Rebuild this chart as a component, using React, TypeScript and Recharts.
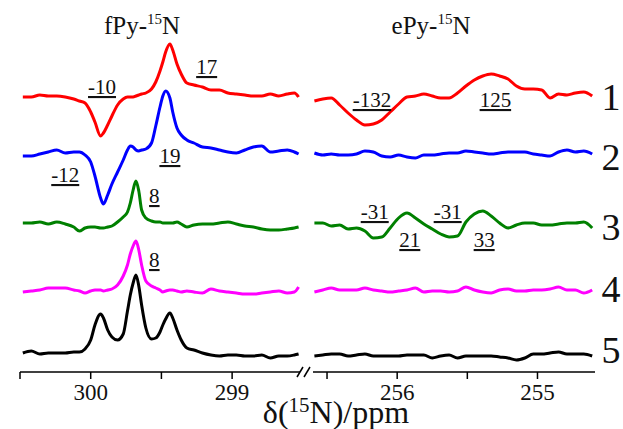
import { LineChart, Line, XAxis, YAxis, ReferenceDot } from "recharts";

const FONT = '"Liberation Serif", "Times New Roman", serif';

// chemical shift grid (ppm) for each half of the broken axis
const leftPpm = [
  300.48, 300.42, 300.36, 300.3, 300.24, 300.18, 300.12, 300.08, 300.04, 300.0,
  299.97, 299.93, 299.91, 299.88, 299.85, 299.81, 299.77, 299.74, 299.72, 299.7,
  299.68, 299.66, 299.64, 299.61, 299.57, 299.54, 299.51, 299.49, 299.47, 299.44,
  299.42, 299.39, 299.36, 299.32, 299.27, 299.21, 299.15, 299.09, 299.03, 298.97,
  298.91, 298.85, 298.79, 298.73, 298.67, 298.61, 298.56, 298.53,
];
const rightPpm = [
  256.59, 256.53, 256.47, 256.41, 256.35, 256.29, 256.23, 256.17, 256.11, 256.05,
  255.99, 255.93, 255.87, 255.81, 255.75, 255.69, 255.63, 255.57, 255.51, 255.45,
  255.39, 255.33, 255.27, 255.21, 255.15, 255.09, 255.03, 254.97, 254.91, 254.85,
  254.79, 254.73, 254.67, 254.61,
];

// fPy-15N region intensities (traces 1..5)
const fPy1 = [0.0, 0.0, 0.2, 0.1, 0.1, 0.0, -0.2, -0.4, -0.6, -1.5, -2.5, -3.9, -3.6, -2.8, -1.9, -0.8, -0.2, 0.0, 0.0, 0.0, 0.1, 0.2, 0.3, 0.4, 0.8, 1.5, 2.6, 3.5, 4.5, 5.3, 4.7, 3.3, 2.3, 1.4, 1.2, 1.0, 0.7, 0.7, 0.4, 0.3, 0.2, 0.1, 0.1, 0.3, 0.1, 0.3, 0.4, 0.0];
const fPy2 = [-0.1, -0.1, 0.1, 0.3, 0.5, 0.2, 0.3, 0.3, 0.0, -0.7, -2.1, -4.3, -4.9, -4.0, -2.9, -1.7, -0.5, 0.5, 0.9, 0.8, 0.5, 0.4, 0.5, 0.6, 1.2, 2.9, 4.8, 5.9, 6.4, 5.7, 4.3, 2.7, 2.0, 1.5, 1.2, 0.8, 0.7, 0.5, 0.3, 0.2, 0.5, 0.8, 0.9, 0.3, 0.4, 0.5, 0.3, 0.1];
const fPy3 = [0.0, 0.0, 0.1, -0.1, 0.1, -0.1, -0.4, -0.8, -0.5, -0.4, -0.4, -0.5, -0.5, -0.4, -0.3, 0.1, 0.6, 1.1, 2.0, 3.3, 4.2, 3.2, 1.3, 0.5, 0.2, 0.1, 0.1, 0.0, 0.0, 0.0, 0.0, 0.1, -0.1, -0.4, -0.2, -0.1, -0.1, 0.0, 0.1, -0.1, -0.3, -0.4, -0.6, -0.7, -0.7, -0.6, -0.5, -0.4];
const fPy4 = [-0.2, -0.1, 0.0, 0.2, 0.2, 0.2, 0.0, -0.1, -0.3, -0.1, 0.0, 0.0, -0.1, 0.0, 0.1, 0.5, 1.4, 2.5, 3.6, 4.4, 4.9, 4.0, 2.5, 0.9, 0.4, 0.2, 0.0, -0.2, -0.1, 0.0, 0.0, -0.1, -0.2, -0.1, -0.2, -0.3, 0.1, -0.1, -0.2, -0.3, -0.4, -0.4, -0.3, -0.2, -0.1, -0.3, -0.2, 0.3];
const fPy5 = [0.1, 0.3, 0.0, 0.1, 0.1, 0.1, 0.2, 0.2, 0.5, 1.4, 2.9, 4.0, 3.6, 2.4, 1.7, 1.4, 2.0, 4.3, 5.9, 7.1, 7.9, 6.8, 4.9, 2.6, 1.5, 1.6, 2.2, 2.9, 3.5, 4.1, 3.6, 2.4, 1.4, 0.6, 0.4, 0.1, -0.1, -0.2, -0.1, -0.1, -0.2, -0.2, -0.1, -0.4, -0.2, -0.2, -0.1, 0.0];

// ePy-15N region intensities (traces 1..5)
const ePy1 = [-0.4, -0.2, -0.1, -0.8, -1.6, -2.3, -2.8, -2.7, -2.3, -1.5, -0.7, 0.0, 0.1, 0.3, 0.1, -0.1, -0.1, 0.4, 1.1, 1.7, 2.1, 2.3, 2.1, 1.8, 1.1, 0.8, 0.8, 0.7, -0.1, 0.3, 0.2, 0.4, 0.5, 0.1];
const ePy2 = [0.2, 0.0, 0.1, 0.0, 0.0, 0.1, 0.4, 0.3, -0.1, -0.2, 0.0, -0.2, -0.3, 0.0, 0.0, 0.1, 0.2, 0.2, 0.4, 0.3, 0.2, 0.1, 0.2, 0.3, 0.3, 0.3, 0.1, 0.0, -0.1, 0.3, 0.5, 0.3, 0.4, 0.1];
const ePy3 = [0.0, 0.0, -0.3, -0.2, -0.6, -0.5, -0.8, -1.5, -1.4, -0.5, 0.5, 1.0, 0.5, -0.1, -0.6, -1.1, -1.4, -1.3, 0.1, 0.9, 1.2, 0.7, 0.0, -0.5, -0.2, 0.0, 0.0, -0.2, -0.2, -0.1, 0.0, 0.0, 0.1, -0.5];
const ePy4 = [-0.2, 0.0, 0.2, 0.0, 0.0, 0.0, 0.2, 0.0, -0.1, -0.2, -0.1, 0.0, 0.2, -0.2, -0.1, -0.1, -0.2, -0.1, 0.3, 0.0, -0.2, -0.3, 0.0, 0.1, -0.1, -0.1, 0.0, 0.0, 0.1, 0.3, 0.0, 0.0, -0.3, 0.0];
const ePy5 = [-0.2, -0.1, 0.0, 0.0, -0.2, -0.1, 0.0, -0.2, -0.2, -0.2, -0.2, -0.1, -0.1, -0.1, -0.4, -0.2, -0.1, -0.4, -0.2, -0.2, -0.2, -0.2, -0.3, -0.4, -0.6, -0.4, 0.0, 0.0, 0.1, 0.2, 0.0, 0.0, 0.0, -0.2];

// vertical stacking of the spectra
const traceOffsets = [27.5, 21.7, 14.9, 8.2, 1.8];
const traceColors = ["#ff0000", "#0000ff", "#008000", "#ff00ff", "#000000"];
const traceNames = ["1", "2", "3", "4", "5"];

const leftTicks = [300.5, 300, 299.5, 299];
const rightTicks = [256.5, 256, 255.5, 255];

// underlined numbers: text, ppm, level
const leftNotes = [
  { text: "-10", ppm: 299.92, y: 27.8 },
  { text: "17", ppm: 299.18, y: 29.8 },
  { text: "-12", ppm: 300.18, y: 19.0 },
  { text: "19", ppm: 299.44, y: 20.9 },
  { text: "8", ppm: 299.55, y: 16.9 },
  { text: "8", ppm: 299.55, y: 10.5 },
];
const rightNotes = [
  { text: "-132", ppm: 256.18, y: 26.5 },
  { text: "125", ppm: 255.3, y: 26.5 },
  { text: "-31", ppm: 256.16, y: 15.3 },
  { text: "21", ppm: 255.91, y: 12.5 },
  { text: "-31", ppm: 255.64, y: 15.3 },
  { text: "33", ppm: 255.38, y: 12.5 },
];

function Panel({ left, width, ppm, series, domain, ticks, notes, margin }: any) {
  const data = ppm.map((x: number, i: number) => {
    const row: any = { ppm: x };
    series.forEach((s: number[], j: number) => {
      row["s" + j] = traceOffsets[j] + s[i];
    });
    return row;
  });
  return (
    <div style={{ position: "absolute", left, top: 0 }}>
      <LineChart width={width} height={429} data={data} margin={margin}>
        <XAxis
          dataKey="ppm"
          type="number"
          domain={domain}
          reversed
          allowDataOverflow
          ticks={ticks}
          interval={0}
          tickFormatter={(v: number) => (Number.isInteger(v) ? String(v) : "")}
          axisLine={{ stroke: "#000", strokeWidth: 1.5 }}
          tickLine={{ stroke: "#000", strokeWidth: 1.5 }}
          tickSize={7}
          tickMargin={5}
          height={50}
          tick={{ fontSize: 23, fontFamily: FONT, fill: "#111" }}
        />
        <YAxis hide type="number" domain={[0, 35.2]} allowDataOverflow />
        {traceColors.map((c, j) => (
          <Line
            key={j}
            dataKey={"s" + j}
            name={traceNames[j]}
            type="monotone"
            stroke={c}
            strokeWidth={3}
            dot={false}
            isAnimationActive={false}
          />
        ))}
        {notes.map((n: any, k: number) => (
          <ReferenceDot
            key={k}
            x={n.ppm}
            y={n.y}
            r={0}
            ifOverflow="visible"
            shape={(p: any) => (
              <text
                x={p.cx}
                y={p.cy}
                textAnchor="middle"
                fontFamily={FONT}
                fontSize={21}
                fill="#111"
                style={{ textDecoration: "underline" }}
              >
                {n.text}
              </text>
            )}
          />
        ))}
      </LineChart>
    </div>
  );
}

export default function App() {
  const numberBaselines = [110, 170, 240, 302, 363];
  return (
    <div style={{ position: "absolute", left: 0, top: 0, width: 623, height: 429, background: "#fff", overflow: "hidden" }}>
      <Panel
        left={0}
        width={310}
        ppm={leftPpm}
        series={[fPy1, fPy2, fPy3, fPy4, fPy5]}
        domain={[298.52, 300.5]}
        ticks={leftTicks}
        notes={leftNotes}
        margin={{ top: 20, right: 10, bottom: 7, left: 20 }}
      />
      <Panel
        left={300}
        width={323}
        ppm={rightPpm}
        series={[ePy1, ePy2, ePy3, ePy4, ePy5]}
        domain={[254.59, 256.6]}
        ticks={rightTicks}
        notes={rightNotes}
        margin={{ top: 20, right: 28, bottom: 7, left: 13 }}
      />
      <svg width={623} height={429} style={{ position: "absolute", left: 0, top: 0, pointerEvents: "none" }}>
        <g fontFamily={FONT} fill="#111">
          <text x={142} y={34} textAnchor="middle" fontSize={25}>
            fPy-<tspan fontSize={15} dy={-10}>15</tspan>
            <tspan dy={10}>N</tspan>
          </text>
          <text x={431} y={34} textAnchor="middle" fontSize={25}>
            ePy-<tspan fontSize={15} dy={-10}>15</tspan>
            <tspan dy={10}>N</tspan>
          </text>
          {traceNames.map((t, i) => (
            <text key={t} x={611} y={numberBaselines[i]} textAnchor="middle" fontSize={38}>
              {t}
            </text>
          ))}
          <text x={336} y={423} textAnchor="middle" fontSize={32}>
            δ(<tspan fontSize={21} dy={-11}>15</tspan>
            <tspan dy={11}>N)/ppm</tspan>
          </text>
        </g>
        <line x1={297} y1={377} x2={303} y2={367} stroke="#000" strokeWidth={1.5} />
        <line x1={304} y1={377} x2={310} y2={367} stroke="#000" strokeWidth={1.5} />
      </svg>
    </div>
  );
}
